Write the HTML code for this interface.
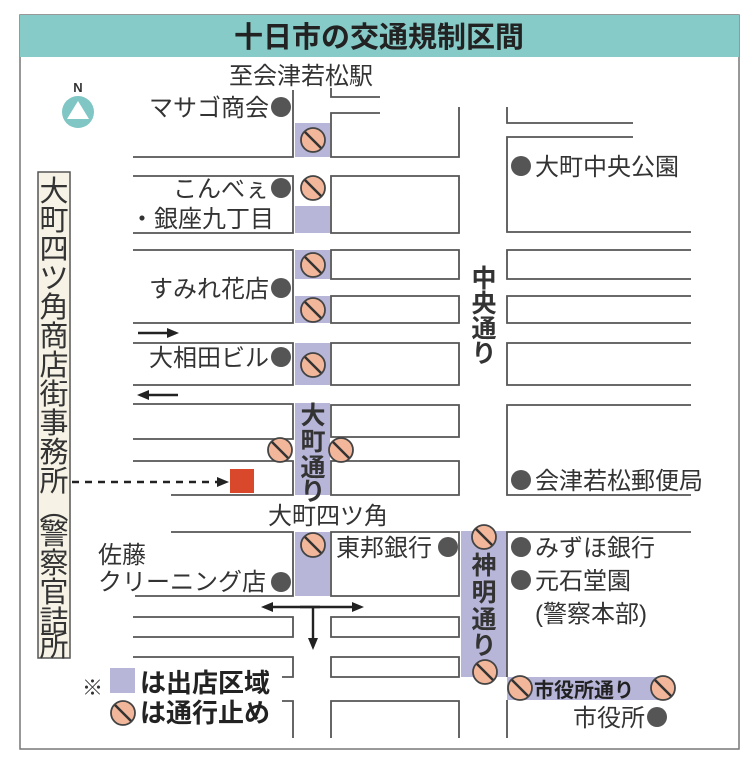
<!DOCTYPE html>
<html><head><meta charset="utf-8"><style>
html,body{margin:0;padding:0;background:#fff;}
svg{display:block;}
text{font-family:"Liberation Sans","Noto Sans CJK JP",sans-serif;fill:#333;}
.b{font-weight:bold;fill:#222;}
</style></head><body>
<svg width="751" height="771" viewBox="0 0 751 771" xmlns="http://www.w3.org/2000/svg">
<defs>
<g id="ne"><circle r="12" fill="#f2b79a" stroke="#444" stroke-width="1.8"/><line x1="-8" y1="-8" x2="8" y2="8" stroke="#333" stroke-width="2.5"/></g>
<marker id="ah" markerWidth="12" markerHeight="12" refX="9" refY="6" orient="auto" markerUnits="userSpaceOnUse"><path d="M0,1 L12,6 L0,11 z" fill="#222"/></marker>
</defs>
<rect x="20" y="15" width="719" height="734" fill="#fff" stroke="#777" stroke-width="1.5"/>
<rect x="20" y="15" width="719" height="42" fill="#86cbc8"/>
<text x="379" y="47" text-anchor="middle" class="b" font-size="29">十日市の交通規制区間</text>

<g fill="#b7b6d9">
<rect x="295" y="123" width="35" height="34"/>
<rect x="295" y="206" width="35" height="27"/>
<rect x="295" y="250" width="35" height="29"/>
<rect x="295" y="296" width="35" height="27"/>
<rect x="295" y="343" width="35" height="42"/>
<rect x="295" y="403" width="35" height="92"/>
<rect x="295" y="532" width="35" height="64"/>
<rect x="461" y="531" width="46" height="146"/>
<rect x="507" y="677" width="158" height="23"/>
</g>

<g stroke="#555" stroke-width="1.8" fill="none">
<path d="M133 157 H293 V90"/>
<path d="M133 176 H293 V233 H133"/>
<path d="M133 250 H293 V323 H133"/>
<path d="M133 343 H293 V385 H133"/>
<path d="M133 404 H293 V439 H133"/>
<path d="M133 461 H293 V495 H171"/>
<path d="M171 532 H293 V596 H135"/>
<path d="M133 617 H293 V637 H133"/>
<path d="M133 657 H293 V677 H282"/>
<path d="M282 701 H293 V738"/>
<path d="M380 97 H331 V88"/>
<path d="M380 113 H331 V157 H459 V107"/>
<path d="M331 176 H459 V233 H331 Z"/>
<path d="M331 250 H459 V279 H331 Z"/>
<path d="M331 296 H459 V323 H331 Z"/>
<path d="M331 343 H459 V385 H331 Z"/>
<path d="M331 405 H459 V437 H331 Z"/>
<path d="M331 461 H459 V495 H331 Z"/>
<path d="M331 532 H459 V596 H331 Z"/>
<path d="M331 617 H459 V637 H331 Z"/>
<path d="M331 657 H459 V677 H331 Z"/>
<path d="M331 738 V701 H459 V738"/>
<path d="M507 107 V123 H633"/>
<path d="M633 137 H507 V232 H691"/>
<path d="M691 250 H507 V279 H691"/>
<path d="M691 296 H507 V323 H691"/>
<path d="M691 343 H507 V385 H691"/>
<path d="M691 405 H507 V495 H691"/>
<path d="M691 532 H507 V677"/>
<path d="M507 738 V700"/>
</g>

<g stroke="#222" stroke-width="2.4" fill="none">
<line x1="138" y1="333" x2="176" y2="333" marker-end="url(#ah)"/>
<line x1="178" y1="395" x2="140" y2="395" marker-end="url(#ah)"/>
<line x1="72" y1="482" x2="226" y2="482" stroke-dasharray="7,6" marker-end="url(#ah)"/>
<line x1="300" y1="607" x2="361" y2="607" marker-end="url(#ah)"/>
<line x1="320" y1="607" x2="264" y2="607" marker-end="url(#ah)"/>
<line x1="313" y1="607" x2="313" y2="647" marker-end="url(#ah)"/>
</g>
<rect x="230" y="469" width="24" height="24" fill="#d9482b"/>

<text x="78" y="92" text-anchor="middle" font-size="13" font-weight="bold">N</text>
<circle cx="78" cy="112" r="16" fill="#7fc6c4"/>
<path d="M78 101 L89 119 L67 119 Z" fill="#fff"/>

<rect x="38" y="172" width="32" height="486" fill="#f6f3e6" stroke="#555" stroke-width="1.5"/>
<text font-size="29" text-anchor="middle" fill="#333">
<tspan x="54" y="201">大</tspan><tspan x="54" y="230">町</tspan><tspan x="54" y="259">四</tspan><tspan x="54" y="288">ツ</tspan><tspan x="54" y="317">角</tspan><tspan x="54" y="346">商</tspan><tspan x="54" y="375">店</tspan><tspan x="54" y="404">街</tspan><tspan x="54" y="433">事</tspan><tspan x="54" y="462">務</tspan><tspan x="54" y="491">所</tspan><tspan x="54" y="519">︵</tspan><tspan x="54" y="544">警</tspan><tspan x="54" y="573">察</tspan><tspan x="54" y="602">官</tspan><tspan x="54" y="631">詰</tspan><tspan x="54" y="656">所</tspan>
</text>

<g fill="#555">
<circle cx="281" cy="107" r="10"/><circle cx="281" cy="188" r="10"/><circle cx="281" cy="288" r="10"/><circle cx="281" cy="357" r="10"/><circle cx="281" cy="582" r="10"/><circle cx="448" cy="547" r="10"/><circle cx="521" cy="547" r="10"/><circle cx="521" cy="580" r="10"/><circle cx="521" cy="166" r="10"/><circle cx="521" cy="480" r="10"/><circle cx="657" cy="717" r="10"/>
</g>

<use href="#ne" x="313" y="140"/><use href="#ne" x="313" y="188"/><use href="#ne" x="313" y="265"/><use href="#ne" x="313" y="310"/><use href="#ne" x="313" y="365"/><use href="#ne" x="280" y="450"/><use href="#ne" x="341" y="450"/><use href="#ne" x="313" y="545"/><use href="#ne" x="484" y="537"/><use href="#ne" x="485" y="672"/><use href="#ne" x="520" y="688"/><use href="#ne" x="663" y="688"/>

<g font-size="24">
<text x="229" y="84">至会津若松駅</text>
<text x="269" y="116" text-anchor="end">マサゴ商会</text>
<text x="269" y="197" text-anchor="end">こんべぇ</text>
<text x="130" y="227">・銀座九丁目</text>
<text x="269" y="297" text-anchor="end">すみれ花店</text>
<text x="269" y="366" text-anchor="end">大相田ビル</text>
<text x="535" y="175">大町中央公園</text>
<text x="535" y="489">会津若松郵便局</text>
<text x="268" y="524">大町四ツ角</text>
<text x="98" y="563">佐藤</text>
<text x="98" y="590">クリーニング店</text>
<text x="336" y="556">東邦銀行</text>
<text x="535" y="556">みずほ銀行</text>
<text x="535" y="589">元石堂園</text>
<text x="535" y="622">(警察本部)</text>
<text x="645" y="726" text-anchor="end">市役所</text>
</g>
<g class="b" font-size="25" text-anchor="middle">
<text x="313" y="424">大</text><text x="313" y="450">町</text><text x="313" y="476">通</text><text x="313" y="500">り</text>
<text x="484" y="287">中</text><text x="484" y="312">央</text><text x="484" y="337">通</text><text x="484" y="362">り</text>
<text x="484" y="574">神</text><text x="484" y="601">明</text><text x="484" y="628">通</text><text x="484" y="654">り</text>
</g>
<text x="534" y="697" class="b" font-size="20">市役所通り</text>

<text x="82" y="695" font-size="21">※</text>
<rect x="110" y="668" width="25" height="25" fill="#b7b6d9"/>
<text x="140" y="692" class="b" font-size="26">は出店区域</text>
<use href="#ne" x="123" y="713"/>
<text x="140" y="722" class="b" font-size="26">は通行止め</text>
</svg>
</body></html>
